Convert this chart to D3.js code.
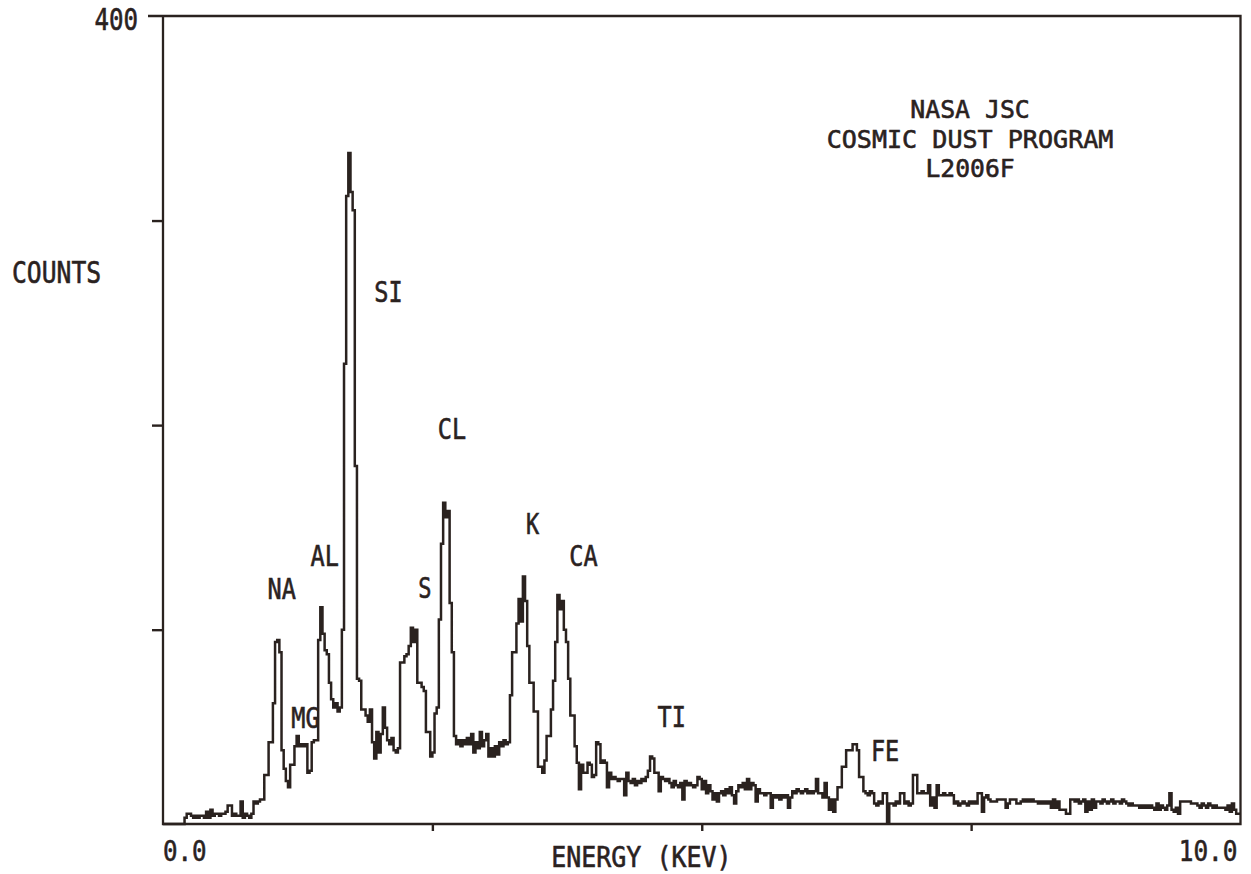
<!DOCTYPE html>
<html>
<head>
<meta charset="utf-8">
<script src="https://cdn.jsdelivr.net/npm/d3@7"></script>
<style>
html,body{margin:0;padding:0;background:#ffffff;}
svg{display:block;}
</style>
</head>
<body>
<svg id="chart" width="1251" height="874"></svg>
<script>
// ---- data: X-ray spectrum, 0.02 keV channels, 0 - 10 keV ----
const channelWidth = 0.02;
const counts_0_05 = [5,5,5,5,5,5,5,5,5,5, 8,10,10,9,8,9,8,9,9,8, 11,8,12,9,10];
const counts_05_10 = [10,9,10,10,11,14,14,9,10,9, 9,16,8,10,9,8,10,16,15,16, 17,17,29,29,45];
const counts_10_15 = [45,64,94,95,89,41,32,26,23,34, 34,43,48,43,44,43,44,30,31,45, 46,46,95,111,98];
const counts_15_20 = [90,88,74,66,62,64,60,62,100,230, 312,333,314,305,180,76,75,61,61,58, 55,61,45,37,50];
const counts_20_25 = [40,49,62,52,46,44,47,41,40,42, 84,84,87,88,92,101,94,100,74,74, 72,70,50,50,38];
const counts_25_30 = [40,59,62,105,142,162,155,158,113,89, 48,44,46,43,46,44,47,44,49,40, 45,42,50,43,46];
const counts_30_35 = [49,38,42,38,43,39,45,43,46,44, 45,68,89,89,103,115,104,126,114,92, 74,74,60,60,33];
const counts_35_40 = [33,30,36,48,48,61,75,94,117,110, 114,100,94,76,58,58,43,35,22,34, 30,30,35,34,28];
const counts_40_45 = [29,45,44,35,36,35,23,30,27,28, 27,26,27,27,19,30,26,25,27,24, 26,25,27,26,28];
const counts_45_50 = [31,38,37,30,30,21,28,27,26,27, 25,23,26,24,23,25,17,26,24,25, 24,23,24,28,27];
const counts_50_55 = [22,26,20,24,21,17,20,16,20,21, 19,22,20,23,19,15,21,24,23,25, 22,27,22,25,24];
const counts_55_60 = [16,22,20,20,19,20,20,13,19,18, 19,17,19,18,19,13,18,21,20,22, 21,20,21,22,20];
const counts_60_65 = [21,20,21,27,20,20,18,25,18,12, 17,11,17,23,23,33,33,41,41,41, 44,44,41,28,28];
const counts_65_70 = [21,20,19,21,20,15,14,16,15,20, 20,6,15,15,14,16,15,20,20,15, 16,14,15,29,29];
const counts_70_75 = [20,20,21,20,20,24,14,18,13,24, 19,19,20,19,19,20,19,15,16,14, 15,16,15,14,16];
const counts_75_80 = [15,16,15,20,20,11,18,19,17,16, 16,16,17,17,17,17,13,15,17,17, 17,15,15,16,17];
const counts_80_85 = [16,17,16,17,16,16,15,16,15,16, 15,16,13,17,13,16,12,12,12,10, 10,17,17,16,17];
const counts_85_90 = [15,16,17,11,16,12,17,13,16,16, 15,17,16,15,16,17,15,16,16,15, 17,16,15,14,15];
const counts_90_95 = [14,14,14,13,14,13,14,13,14,13, 12,15,12,14,13,12,14,20,12,11, 13,10,16,16,16];
const counts_95_100 = [16,16,15,15,15,14,13,15,14,13, 15,14,13,14,13,13,13,13,12,14, 11,15,12,10,10];

const xTickValues = [2.5, 5, 7.5];
const yTickValues = [100, 200, 300];
const yTopLabel = "400";
const xEndLabels = ["0.0", "10.0"];
const xTitle = "ENERGY (KEV)";
const yTitle = "COUNTS";
const titleLines = ["NASA JSC", "COSMIC DUST PROGRAM", "L2006F"];

// element labels: name, energy of label's left edge, count level of label baseline
const peakNames  = ["NA", "MG", "AL", "SI", "S", "CL", "K", "CA", "TI", "FE"];
const peakLabelE = [0.97, 1.19, 1.37, 1.96, 2.37, 2.55, 3.37, 3.77, 4.59, 6.57];
const peakLabelC = [115, 52, 131, 260, 115.5, 193, 147, 131, 52.5, 36];

const counts = [].concat(counts_0_05, counts_05_10, counts_10_15, counts_15_20, counts_20_25,
  counts_25_30, counts_30_35, counts_35_40, counts_40_45, counts_45_50, counts_50_55,
  counts_55_60, counts_60_65, counts_65_70, counts_70_75, counts_75_80, counts_80_85,
  counts_85_90, counts_90_95, counts_95_100);

// ---- drawing ----
const ink = "#2a221f";
const svg = d3.select("#chart");
const x = d3.scaleLinear().domain([0, 10]).range([163, 1240.5]);
const y = d3.scaleLinear().domain([5, 400]).range([824, 16]);

const font = "'DejaVu Sans Mono', 'Liberation Mono', monospace";
function label(s, px, py, anchor, size) {
  svg.append("text")
    .attr("x", px).attr("y", py)
    .attr("text-anchor", anchor)
    .attr("font-family", font)
    .attr("font-size", size || 28)
    .attr("fill", ink)
    .attr("stroke", ink)
    .attr("stroke-width", 0.6)
    .attr("textLength", s.length * 15.2 - 2)
    .attr("lengthAdjust", "spacingAndGlyphs")
    .text(s);
}

// axes ticks
const gy = svg.append("g").attr("transform", `translate(${x(0)},0)`)
  .call(d3.axisLeft(y).tickValues(yTickValues).tickSize(11).tickFormat(""));
const gx = svg.append("g").attr("transform", `translate(0,${y(5)})`)
  .call(d3.axisBottom(x).tickValues(xTickValues).tickSize(7).tickFormat(""));
[gy, gx].forEach(g => {
  g.select(".domain").remove();
  g.selectAll(".tick line").attr("stroke", ink).attr("stroke-width", 2.4);
});

// frame
svg.append("path")
  .attr("d", `M${x(0) - 15},${y(400)} H${x(10)} V${y(5)} H${x(0)} V${y(400)}`)
  .attr("fill", "none").attr("stroke", ink).attr("stroke-width", 2.3)
  .attr("stroke-linejoin", "miter");

// spectrum (histogram steps)
const pts = counts.map((c, i) => [i * channelWidth, c]);
pts.push([10, counts[counts.length - 1]]);
const line = d3.line().x(d => x(d[0])).y(d => y(d[1])).curve(d3.curveStepAfter);
svg.append("path")
  .datum(pts)
  .attr("d", line)
  .attr("fill", "none")
  .attr("stroke", ink)
  .attr("stroke-width", 2.5)
  .attr("stroke-linejoin", "miter");

// text
label(yTopLabel, x(0) - 25, y(400) + 14, "end", 30);
label(yTitle, 12, 283, "start", 30);
label(xEndLabels[0], x(0), y(5) + 37, "start", 29);
label(xEndLabels[1], x(10) - 3, y(5) + 37, "end", 29);
label(xTitle, x(4.44), y(5) + 43, "middle", 28);
titleLines.forEach((t, i) => label(t, x(7.49), 118 + i * 29.5, "middle", 25));
peakNames.forEach((n, i) => label(n, x(peakLabelE[i]), y(peakLabelC[i]), "start", 28));
</script>
</body>
</html>
